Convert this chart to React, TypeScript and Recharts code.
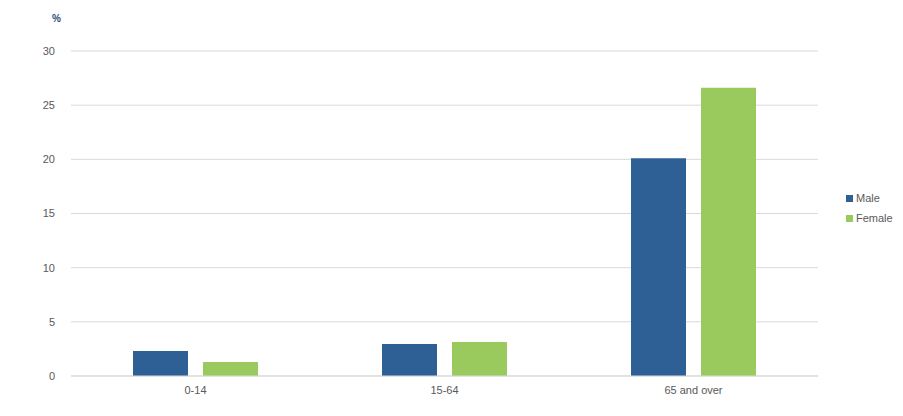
import {
  BarChart,
  Bar,
  XAxis,
  YAxis,
  CartesianGrid,
} from "recharts";

const categories = ["0-14", "15-64", "65 and over"];
const maleValues = [2.3, 2.95, 20.1];
const femaleValues = [1.3, 3.15, 26.6];
const yTicks = [0, 5, 10, 15, 20, 25, 30];

const MALE_COLOR = "#2e6096";
const FEMALE_COLOR = "#9aca5e";
const FONT = "'Liberation Sans', Arial, sans-serif";

const chartData = categories.map((name, i) => ({
  name,
  male: maleValues[i],
  female: femaleValues[i],
}));

const legendItems = [
  { label: "Male", color: MALE_COLOR },
  { label: "Female", color: FEMALE_COLOR },
];

export default function App() {
  return (
    <div
      style={{
        position: "absolute",
        left: 0,
        top: 0,
        width: 903,
        height: 416,
        background: "#fff",
        fontFamily: FONT,
      }}
    >
      <div
        style={{
          position: "absolute",
          left: 52,
          top: 13,
          fontSize: 10,
          fontWeight: "bold",
          color: "#1f4e79",
        }}
      >
        %
      </div>

      {/* Legend */}
      <div
        style={{
          position: "absolute",
          left: 846,
          top: 188,
          fontSize: 11,
          color: "#595959",
        }}
      >
        {legendItems.map((item) => (
          <div
            key={item.label}
            style={{ display: "flex", alignItems: "center", height: 20 }}
          >
            <span
              style={{
                display: "inline-block",
                width: 7,
                height: 7,
                background: item.color,
                marginRight: 3,
              }}
            />
            {item.label}
          </div>
        ))}
      </div>

      <BarChart
        width={903}
        height={416}
        data={chartData}
        margin={{ top: 51, right: 85, bottom: 0, left: 11 }}
        barCategoryGap="25%"
        barGap={15}
      >
        <CartesianGrid vertical={false} stroke="#d9d9d9" />
        <XAxis
          dataKey="name"
          height={40}
          tickLine={false}
          axisLine={{ stroke: "#d9d9d9" }}
          tick={{ fill: "#595959", fontSize: 11, fontFamily: FONT }}
          tickMargin={4}
        />
        <YAxis
          width={60}
          domain={[0, 30]}
          ticks={yTicks}
          axisLine={false}
          tickLine={false}
          tick={{ fill: "#595959", fontSize: 11, fontFamily: FONT }}
          tickMargin={10}
        />
        <Bar
          dataKey="male"
          name="Male"
          fill={MALE_COLOR}
          barSize={55}
          isAnimationActive={false}
        />
        <Bar
          dataKey="female"
          name="Female"
          fill={FEMALE_COLOR}
          barSize={55}
          isAnimationActive={false}
        />
      </BarChart>
    </div>
  );
}
